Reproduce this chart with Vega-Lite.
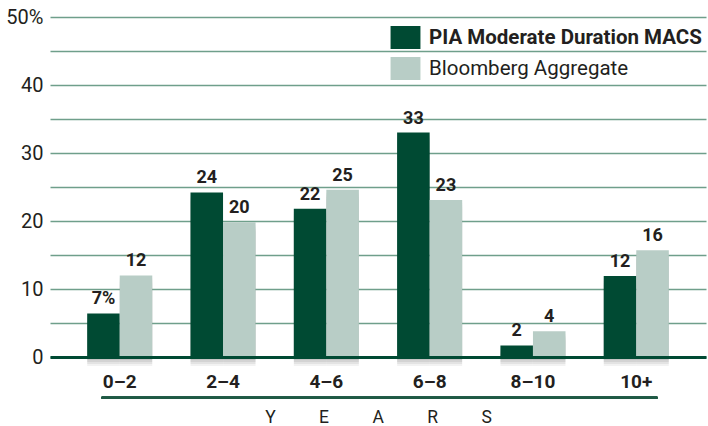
{
  "$schema": "https://vega.github.io/schema/vega-lite/v6.json",
  "width": 656,
  "height": 340,
  "autosize": "none",
  "padding": {"left": 50, "top": 17, "right": 2, "bottom": 69},
  "background": "white",
  "config": {"view": {"stroke": null}, "font": "Roboto"},
  "data": {
    "values": [
      {"range": "0–2", "series": "PIA Moderate Duration MACS", "value": 6.4, "label": "7%"},
      {"range": "0–2", "series": "Bloomberg Aggregate", "value": 12, "label": "12"},
      {"range": "2–4", "series": "PIA Moderate Duration MACS", "value": 24.2, "label": "24"},
      {"range": "2–4", "series": "Bloomberg Aggregate", "value": 19.8, "label": "20"},
      {"range": "4–6", "series": "PIA Moderate Duration MACS", "value": 21.8, "label": "22"},
      {"range": "4–6", "series": "Bloomberg Aggregate", "value": 24.6, "label": "25"},
      {"range": "6–8", "series": "PIA Moderate Duration MACS", "value": 33, "label": "33"},
      {"range": "6–8", "series": "Bloomberg Aggregate", "value": 23.1, "label": "23"},
      {"range": "8–10", "series": "PIA Moderate Duration MACS", "value": 1.7, "label": "2"},
      {"range": "8–10", "series": "Bloomberg Aggregate", "value": 3.8, "label": "4"},
      {"range": "10+", "series": "PIA Moderate Duration MACS", "value": 11.9, "label": "12"},
      {"range": "10+", "series": "Bloomberg Aggregate", "value": 15.7, "label": "16"}
    ]
  },
  "encoding": {
    "x": {
      "field": "range",
      "type": "nominal",
      "sort": ["0–2", "2–4", "4–6", "6–8", "8–10", "10+"],
      "scale": {"paddingInner": 0.37, "paddingOuter": 0.36},
      "axis": {
        "title": "Y\u00a0\u00a0\u00a0\u00a0\u00a0\u00a0\u00a0\u00a0\u00a0\u00a0E\u00a0\u00a0\u00a0\u00a0\u00a0\u00a0\u00a0\u00a0\u00a0\u00a0A\u00a0\u00a0\u00a0\u00a0\u00a0\u00a0\u00a0\u00a0\u00a0\u00a0R\u00a0\u00a0\u00a0\u00a0\u00a0\u00a0\u00a0\u00a0\u00a0\u00a0S",
        "titleFont": "Roboto",
        "titleFontWeight": "normal",
        "titleFontSize": 17.5,
        "titleColor": "#231f20",
        "titlePadding": 17,
        "labelAngle": 0,
        "labelFont": "Roboto",
        "labelFontWeight": "bold",
        "labelFontSize": 19,
        "labelColor": "#231f20",
        "labelPadding": 15,
        "ticks": false,
        "domainColor": "#004a33",
        "domainWidth": 3,
        "zindex": 1
      }
    },
    "y": {
      "field": "value",
      "type": "quantitative",
      "scale": {"domain": [0, 50], "nice": false},
      "axis": {
        "title": null,
        "values": [0, 5, 10, 15, 20, 25, 30, 35, 40, 45, 50],
        "labelExpr": "datum.value % 10 == 0 ? (datum.value == 50 ? '50%' : datum.label) : ''",
        "domain": false,
        "ticks": false,
        "gridColor": "#6f9f8b",
        "gridWidth": 1.5,
        "labelFont": "Roboto",
        "labelFontSize": 20,
        "labelColor": "#231f20",
        "labelPadding": 7
      }
    },
    "xOffset": {"field": "series", "type": "nominal", "sort": ["PIA Moderate Duration MACS", "Bloomberg Aggregate"], "scale": {"paddingInner": 0}}
  },
  "layer": [
    {"mark": {"type": "bar", "color": "#000000", "opacity": 0.07, "xOffset": 3, "yOffset": 3}},
    {"mark": {"type": "bar", "color": "#000000", "opacity": 0.07, "xOffset": 6, "yOffset": 5}},
    {"mark": {"type": "bar", "color": "#000000", "opacity": 0.06, "xOffset": 9, "yOffset": 7}},
    {"mark": {"type": "bar", "color": "#000000", "opacity": 0.05, "xOffset": 12, "yOffset": 9}},
    {
      "mark": {"type": "bar", "opacity": 1},
      "encoding": {
        "color": {
          "field": "series",
          "type": "nominal",
          "scale": {"domain": ["PIA Moderate Duration MACS", "Bloomberg Aggregate"], "range": ["#004a33", "#b8cdc6"]},
          "legend": {
            "orient": "none",
            "legendX": 344,
            "legendY": 9,
            "title": null,
            "padding": 0,
            "symbolType": "M-1.3,-1H1.3V1H-1.3Z",
            "symbolSize": 529,
            "symbolStrokeWidth": 0,
            "symbolOpacity": 1,
            "labelFont": "Roboto",
            "labelFontSize": 20.5,
            "labelColor": "#231f20",
            "labelOffset": 12,
            "labelLimit": 400,
            "rowPadding": 8,
            "encode": {"labels": {"update": {"fontWeight": {"signal": "datum.value == 'PIA Moderate Duration MACS' ? 'bold' : 'normal'"}}}}
          }
        }
      }
    },
    {
      "mark": {"type": "text", "baseline": "bottom", "dy": -5, "fontWeight": "bold", "fontSize": 18, "color": "#231f20", "font": "Roboto"},
      "encoding": {"text": {"field": "label"}}
    },
    {
      "mark": {"type": "rule", "color": "#1f5a45", "strokeWidth": 2, "xOffset": -18, "x2Offset": 21},
      "encoding": {
        "x": {"datum": "0–2"},
        "x2": {"datum": "10+"},
        "y": {"datum": -6},
        "xOffset": null
      }
    }
  ]
}
